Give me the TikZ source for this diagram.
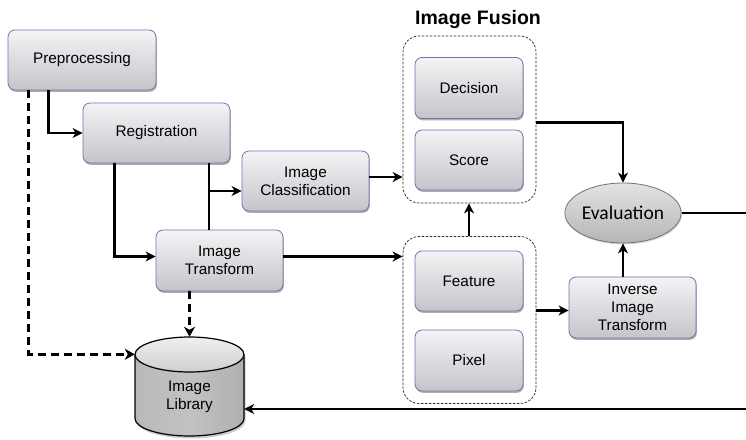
\documentclass[tikz,border=0pt]{standalone}
\usepackage{fontspec}
\setmainfont{Liberation Sans}
\newfontfamily\carlito{Carlito}
\usetikzlibrary{arrows.meta,shapes.geometric,shadows,calc}
\definecolor{boxedge}{HTML}{7472AE}
\definecolor{boxtop}{HTML}{F4F4F6}
\definecolor{boxmid}{HTML}{E6E6EA}
\definecolor{boxbot}{HTML}{C4C4CA}
\begin{document}
\begin{tikzpicture}[x=1pt,y=-1pt,
  box/.style={draw=boxedge, line width=0.8pt, rounded corners=7pt,
    top color=boxtop, middle color=boxmid, bottom color=boxbot,
    drop shadow={shadow xshift=0.8pt, shadow yshift=-1.8pt, opacity=0.45, fill=black!70},
    align=center, font=\fontsize{15.3}{18}\selectfont, inner sep=0pt},
  grp/.style={draw=black!85, line width=0.7pt, dash pattern=on 2.5pt off 1.5pt,
    rounded corners=16pt, inner sep=0pt},
  arr/.style={line width=2.4pt, -{Stealth[length=10pt,width=10pt,inset=3pt]}},
  ln/.style={line width=2.4pt},
  darr/.style={line width=3pt, dash pattern=on 8pt off 5pt,
    -{Stealth[length=10pt,width=11pt,inset=3pt]}},
  cyl/.style={draw=black, line width=1.2pt}]
\clip (0,0) rectangle (746,439);
\fill[white] (0,0) rectangle (746,439);

% groups
\node[grp, minimum width=133pt, minimum height=167pt] (up) at (469.5,119.5) {};
\node[grp, minimum width=133pt, minimum height=167pt] (low) at (469.5,320) {};
\node[font=\fontsize{19.5}{22}\selectfont\bfseries] (title) at (478,20) {Image Fusion};

% boxes
\node[box, minimum width=148pt, minimum height=60pt] (pre) at (82,60) {Preprocessing};
\node[box, minimum width=147pt, minimum height=60pt] (reg) at (156.5,133) {Registration};
\node[box, minimum width=127pt, minimum height=60pt] (cls) at (305.5,181) {Image\\Classification};
\node[box, minimum width=127pt, minimum height=61pt] (tra) at (219.5,260.5) {Image\\Transform};
\node[box, minimum width=108pt, minimum height=61pt] (dec) at (469,88) {Decision};
\node[box, minimum width=108pt, minimum height=60pt] (sco) at (469,160) {Score};
\node[box, minimum width=108pt, minimum height=60pt] (fea) at (469,281) {Feature};
\node[box, minimum width=108pt, minimum height=61pt] (pix) at (469,360.5) {Pixel};
\node[box, minimum width=127pt, minimum height=61pt] (inv) at (632.5,307.5) {Inverse\\Image\\Transform};

% evaluation
\node[ellipse, draw=black!55, line width=0.8pt, minimum width=108pt, minimum height=60pt,
  top color=gray!22, bottom color=gray!58,
  drop shadow={shadow xshift=0.8pt, shadow yshift=-1.5pt, opacity=0.3},
  font=\carlito\fontsize{19.5}{22}\selectfont, inner sep=0pt] (evl) at (623,213) {Evaluation};

% library (cylinder drawn by hand, node used for anchors)
\node[minimum width=109pt, minimum height=99pt, inner sep=0pt] (lib) at (189.5,386.5) {};
\begin{scope}[shift={(lib.center)}, x=1pt, y=1pt]
  \fill[gray!40] (-53,29.5) -- (-53,-34.5) arc[start angle=180, end angle=360, x radius=54.5pt, y radius=17.5pt] -- (56,29.5) -- cycle;
  \path[left color=gray!55, right color=gray!62, middle color=gray!48]
    (-54.5,32) -- (-54.5,-32) arc[start angle=180, end angle=360, x radius=54.5pt, y radius=17.5pt] -- (54.5,32) -- cycle;
  \draw[cyl] (-54.5,32) -- (-54.5,-32) arc[start angle=180, end angle=360, x radius=54.5pt, y radius=17.5pt] -- (54.5,32);
  \draw[cyl, top color=gray!12, bottom color=gray!38] (0,32) ellipse [x radius=54.5pt, y radius=17.5pt];
\end{scope}
\node[align=center, font=\fontsize{15.3}{18}\selectfont, inner sep=0pt] (libtxt) at (189.5,397) {Image\\Library};

% connectors
\draw[arr] ([xshift=41pt]pre.south west) |- (reg.west);
\draw[darr] ([xshift=21pt]pre.south west) |- ([yshift=-17.5pt]lib.north west);
\draw[arr] ([xshift=32pt]reg.south west) |- ([yshift=4pt]tra.west);
\coordinate (j) at (209,191);
\draw[ln] (reg.south -| j) -- (tra.north -| j);
\draw[arr] (j) -- (j -| cls.west);
\draw[arr] ([yshift=4pt]cls.east) -- ([yshift=4pt]cls.east -| up.west);
\draw[arr] ([yshift=4pt]tra.east) -- ([yshift=4pt]tra.east -| low.west);
\draw[arr] (low.north -| sco.south) -- (up.south -| sco.south);
\draw[arr] ([yshift=-3pt]up.east) -| (evl.north);
\draw[arr] ([yshift=-3pt]inv.west -| low.east) -- ([yshift=-3pt]inv.west);
\draw[arr] (evl.south |- inv.north) -- (evl.south);
\coordinate (rc) at (760,409);
\draw[arr] (evl.east) -| (rc) -- (rc -| lib.east);
\draw[darr] (lib.north |- tra.south) -- (lib.north);
\end{tikzpicture}
\end{document}
